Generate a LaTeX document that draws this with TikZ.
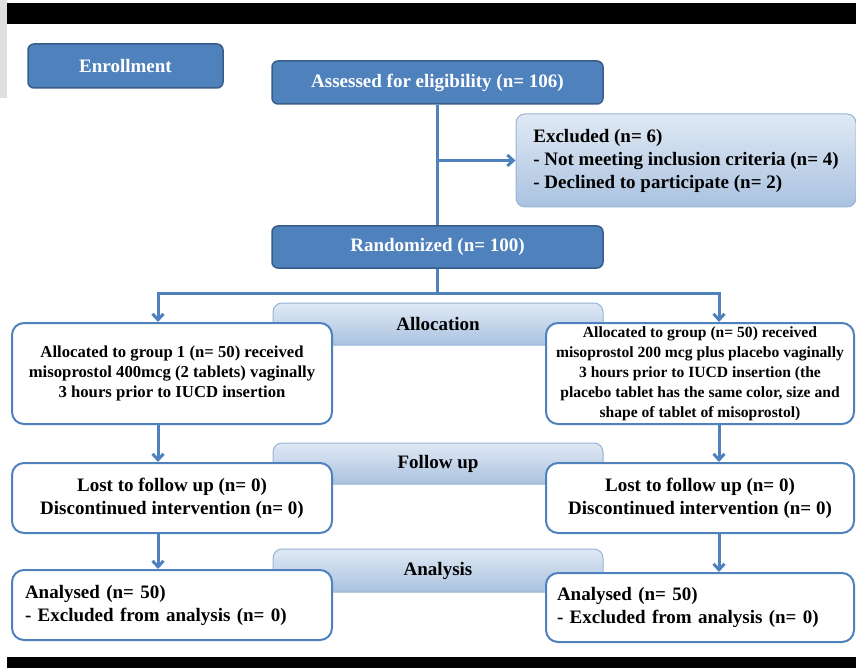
\documentclass[tikz,border=0pt]{standalone}
\usepackage{fontspec}
\setmainfont{Liberation Serif}
\usetikzlibrary{arrows.meta}
\definecolor{boxblue}{RGB}{79,129,189}
\definecolor{boxedge}{RGB}{56,93,138}
\definecolor{paletop}{RGB}{224,233,244}
\definecolor{palebot}{RGB}{170,194,224}
\definecolor{paleedge}{RGB}{150,180,215}
\begin{document}
\begin{tikzpicture}[x=1pt, y=-1pt, >={Straight Barb[length=6pt,width=11pt]},
    bluebox/.style={draw=boxedge, fill=boxblue, line width=1.5pt, rounded corners=6pt, text=white, inner sep=0pt, font=\bfseries\fontsize{19}{23}\selectfont},
    palebox/.style={draw=paleedge, top color=paletop, bottom color=palebot, line width=1pt, rounded corners=9pt, inner sep=0pt, font=\bfseries\fontsize{19}{23}\selectfont},
    whitebox/.style={draw=boxblue, fill=white, line width=2pt, rounded corners=12pt, inner sep=0pt, align=center},
    flow/.style={draw=boxblue, line width=3pt}]
                \useasboundingbox (0,0) rectangle (856,668);
                \fill[gray!25] (0,0) rectangle (7,98);
                \fill (7,3) rectangle (856,24);
                \fill (7,657) rectangle (856,668);
                \node[bluebox, minimum width=195pt, minimum height=44pt] (enroll) at (125.5,66) {Enrollment};
                \node[bluebox, minimum width=331pt, minimum height=43pt] (assess) at (437.5,82.5) {Assessed for eligibility (n= 106)};
                \node[palebox, minimum width=340pt, minimum height=93pt, align=left] (excl) at (686,160.5) {Excluded (n= 6)\\- Not meeting inclusion criteria (n= 4)\\- Declined to participate (n= 2)};
                \node[bluebox, minimum width=331pt, minimum height=42pt] (random) at (437.5,247) {Randomized (n= 100)};
                \node[palebox, minimum width=330pt, minimum height=42pt] (alloc) at (438,324) {Allocation};
                \node[palebox, minimum width=330pt, minimum height=41pt] (follow) at (438,463.5) {Follow up};
                \node[palebox, minimum width=330pt, minimum height=43pt] (anal) at (438,570.5) {Analysis};
                \node[whitebox, minimum width=320pt, minimum height=101pt, font=\bfseries\fontsize{16.7}{20}\selectfont] (alloc1) at (172,373.5) {Allocated to group 1 (n= 50) received\\misoprostol 400mcg (2 tablets) vaginally\\3 hours prior to IUCD insertion};
                \node[whitebox, minimum width=308pt, minimum height=101pt, font=\bfseries\fontsize{15.6}{20}\selectfont] (alloc2) at (700,373.5) {Allocated to group (n= 50) received\\misoprostol 200 mcg plus placebo vaginally\\3 hours prior to IUCD insertion (the\\placebo tablet has the same color, size and\\shape of tablet of misoprostol)};
                \node[whitebox, minimum width=320pt, minimum height=70pt, font=\bfseries\fontsize{19}{23}\selectfont] (follow1) at (172,498) {Lost to follow up (n= 0)\\Discontinued intervention (n= 0)};
                \node[whitebox, minimum width=308pt, minimum height=70pt, font=\bfseries\fontsize{19}{23}\selectfont] (follow2) at (700,498) {Lost to follow up (n= 0)\\Discontinued intervention (n= 0)};
                \node[whitebox, minimum width=320pt, minimum height=70pt, text width=294pt, align=left, font=\bfseries\fontsize{19}{23}\selectfont] (anal1) at (172,605) {Analysed (n= 50)\\- Excluded from analysis (n= 0)};
                \node[whitebox, minimum width=308pt, minimum height=69pt, text width=286pt, align=left, font=\bfseries\fontsize{19}{23}\selectfont] (anal2) at (700,607.5) {Analysed (n= 50)\\- Excluded from analysis (n= 0)};
                \coordinate (fork) at (437.5,293);
                \draw[flow] (assess) -- (random);
                \draw[flow,->] (assess.south |- excl.west) -- (excl.west);
                \draw[flow] (random) -- (fork);
                \draw[flow,->] (fork) -| ([xshift=-14pt]alloc1.north);
                \draw[flow,->] (fork) -| ([xshift=19pt]alloc2.north);
                \draw[flow,->] ([xshift=-14pt]alloc1.south) -- ([xshift=-14pt]follow1.north);
                \draw[flow,->] ([xshift=-14pt]follow1.south) -- ([xshift=-14pt]anal1.north);
                \draw[flow,->] ([xshift=19pt]alloc2.south) -- ([xshift=19pt]follow2.north);
                \draw[flow,->] ([xshift=19pt]follow2.south) -- ([xshift=19pt]anal2.north);
            \end{tikzpicture}
\end{document}
